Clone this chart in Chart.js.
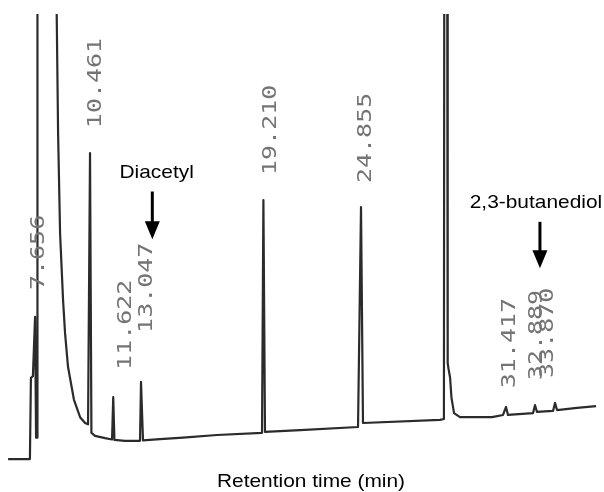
<!DOCTYPE html>
<html>
<head>
<meta charset="utf-8">
<script src="https://cdn.jsdelivr.net/npm/chart.js@4.4.1/dist/chart.umd.min.js"></script>
<style>
  html, body { margin: 0; padding: 0; background: #fff; }
  #wrap { width: 604px; height: 492px; }
</style>
</head>
<body>
<div id="wrap"><canvas id="gcChart"></canvas></div>
<script>
// trace (time in min, signal in % of full scale)
const traceTime = [
  6.30, 7.40, 7.45, 7.55, 7.66, 7.71, 7.76, 7.78, 8.73, 8.75,
  8.82, 8.92, 9.07, 9.17, 9.32, 9.62, 9.93, 10.18, 10.33, 10.43,
  10.50, 10.68, 11.19, 11.54, 11.60, 11.66, 12.19, 12.95, 13.00, 13.10,
  13.96, 15.12, 16.83, 19.10, 19.17, 19.25, 21.02, 23.94, 24.09, 24.19,
  28.07, 28.27, 28.29, 28.43, 28.46, 28.50, 28.58, 28.65, 28.78, 29.08,
  30.69, 31.25, 31.40, 31.50, 32.76, 32.86, 32.96, 33.77, 33.87, 33.97,
  34.98, 35.94
];
const traceSignal = [
  0.2, 0.2, 18.4, 18.8, 32.1, 5.0, 5.0, 130, 130, 100,
  73.3, 50.9, 35.9, 28.5, 20.9, 13.5, 9.6, 8.3, 8.0, 68.8,
  6.1, 5.4, 4.9, 4.6, 14.1, 4.5, 4.3, 4.3, 17.5, 4.4,
  4.7, 5.0, 5.6, 6.1, 58.3, 6.3, 6.7, 7.4, 56.7, 8.3,
  9.0, 9.2, 130, 130, 21.7, 20.5, 18.5, 14.0, 10.5, 9.6,
  9.6, 10.1, 11.9, 10.1, 10.5, 12.3, 10.8, 11.0, 12.8, 11.2,
  11.7, 12.1
];

// printed retention times and where the recorder printed them
const peakLabels    = ['7.656', '10.461', '11.622', '13.047', '19.210', '24.855', '31.417', '32.889', '33.870'];
const peakLabelTime = [7.83, 10.71, 12.22, 13.28, 19.55, 24.34, 31.60, 32.95, 33.52];
const peakLabelBase = [38.1, 74.4, 20.2, 28.5, 63.9, 62.1, 16.1, 17.9, 18.4];

// compounds marked with arrows
const compoundNames     = ['Diacetyl', '2,3-butanediol'];
const compoundTextTime  = [13.79, 32.91];
const compoundTextBase  = [63.2, 56.4];
const compoundArrowTime = [13.57, 33.11];
const compoundArrowTop  = [60.2, 53.4];
const compoundArrowTip  = [49.5, 43.0];

const xTitle = 'Retention time (min)';

const tracePoints = traceTime.map((t, i) => ({ x: t, y: traceSignal[i] }));

// draws the printed times, compound names, arrows and the axis caption
const notesPlugin = {
  id: 'notes',
  afterDatasetsDraw(chart) {
    const { ctx, scales: { x, y } } = chart;

    ctx.save();
    ctx.fillStyle = '#747474';
    ctx.font = '20px "DejaVu Sans Mono", monospace';
    ctx.textAlign = 'left';
    ctx.textBaseline = 'middle';
    peakLabels.forEach((txt, i) => {
      ctx.save();
      ctx.translate(x.getPixelForValue(peakLabelTime[i]), y.getPixelForValue(peakLabelBase[i]));
      ctx.rotate(-Math.PI / 2);
      ctx.scale(1.25, 1);
      ctx.fillText(txt, 0, 0);
      ctx.restore();
    });
    ctx.restore();

    ctx.save();
    ctx.fillStyle = '#000';
    ctx.strokeStyle = '#000';
    ctx.font = '19px "Liberation Sans", Arial, sans-serif';
    ctx.textAlign = 'center';
    ctx.textBaseline = 'alphabetic';
    compoundNames.forEach((name, i) => {
      ctx.save();
      ctx.translate(x.getPixelForValue(compoundTextTime[i]), y.getPixelForValue(compoundTextBase[i]));
      ctx.scale(1.1, 1);
      ctx.fillText(name, 0, 0);
      ctx.restore();

      const ax = x.getPixelForValue(compoundArrowTime[i]);
      const top = y.getPixelForValue(compoundArrowTop[i]);
      const tip = y.getPixelForValue(compoundArrowTip[i]);
      const head = 18;
      ctx.lineWidth = 3;
      ctx.beginPath();
      ctx.moveTo(ax, top);
      ctx.lineTo(ax, tip - head + 1);
      ctx.stroke();
      ctx.beginPath();
      ctx.moveTo(ax - 7.5, tip - head);
      ctx.lineTo(ax + 7.5, tip - head);
      ctx.lineTo(ax, tip);
      ctx.closePath();
      ctx.fill();
    });

    // axis caption
    ctx.save();
    ctx.translate((chart.chartArea.left + chart.chartArea.right) / 2 + 9, 487);
    ctx.scale(1.1, 1);
    ctx.fillText(xTitle, 0, 0);
    ctx.restore();
    ctx.restore();
  }
};

const ctx = document.getElementById('gcChart').getContext('2d');
const chart = new Chart(ctx, {
  type: 'line',
  data: {
    datasets: [{
      data: tracePoints,
      borderColor: '#2b2b2b',
      borderWidth: 2.2,
      borderJoinStyle: 'round',
      pointRadius: 0,
      tension: 0,
      fill: false,
      clip: { left: 2, top: 0, right: 2, bottom: 3 }
    }]
  },
  options: {
    responsive: true,
    maintainAspectRatio: false,
    animation: false,
    layout: { padding: { left: 8, right: 8, top: 14, bottom: 32 } },
    plugins: {
      legend: { display: false },
      tooltip: { enabled: false }
    },
    scales: {
      x: { type: 'linear', min: 6.295, max: 35.936, display: false },
      y: { min: 0, max: 100, display: false }
    }
  },
  plugins: [notesPlugin]
});
</script>
</body>
</html>
